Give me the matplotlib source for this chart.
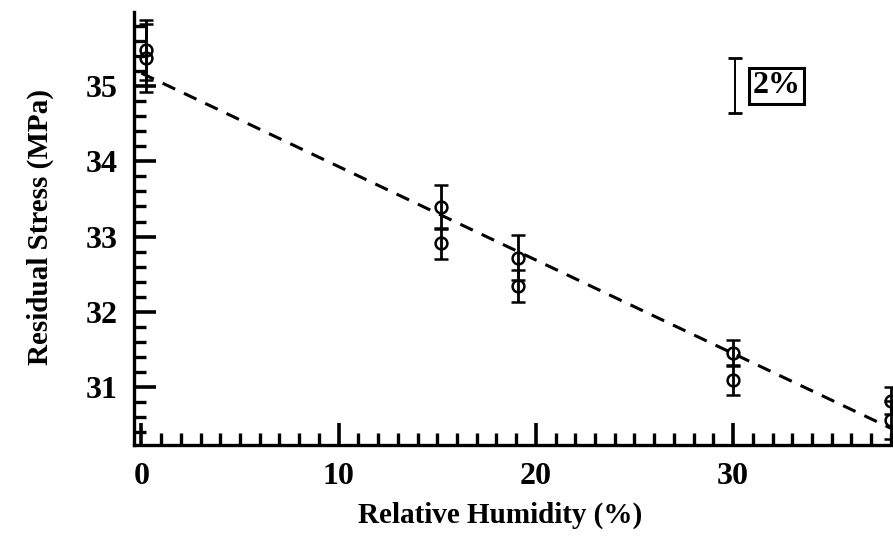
import matplotlib.pyplot as plt
from matplotlib.ticker import MultipleLocator

# readings taken off the original figure
humidity = [0.25, 0.25, 15.2, 15.2, 19.1, 19.1, 30.0, 30.0, 38.0, 38.0]
stress = [35.48, 35.37, 33.39, 32.91, 32.72, 32.34, 31.45, 31.09, 30.82, 30.56]
stress_err = [0.40, 0.45, 0.29, 0.21, 0.30, 0.21, 0.17, 0.20, 0.18, 0.25]

# dashed linear fit, end points
fit_x = [0.0, 38.2]
fit_y = [35.17, 30.43]

# "2%" scale bar
scale_x = 30.1
scale_y = 35.0
scale_err = 0.365
scale_label = '2%'

x_ticks = [0, 10, 20, 30]
y_ticks = [31, 32, 33, 34, 35]

plt.rcParams['font.family'] = ['Liberation Serif', 'DejaVu Serif']
plt.rcParams['font.weight'] = 'bold'

fig = plt.figure(figsize=(8.93, 5.53), dpi=100)
ax = fig.add_axes([0.150, 0.195, 0.850, 0.783])

ax.plot(fit_x, fit_y, color='black', lw=2.2, ls=(0, (4.5, 3.2)), clip_on=False)

ax.errorbar(humidity, stress, yerr=stress_err, fmt='o', mfc='none', mec='black',
            ms=8.5, mew=1.8, ecolor='black', elinewidth=2.0, capsize=5, capthick=2.0,
            color='black', clip_on=False)

ax.errorbar([scale_x], [scale_y], yerr=[scale_err], fmt='none', ecolor='black',
            elinewidth=1.4, capsize=5, capthick=2.0, ls=':')
ax.text(scale_x + 2.1, scale_y, scale_label, fontsize=23, fontweight='bold',
        ha='center', va='center',
        bbox=dict(boxstyle='square,pad=0.1', fc='white', ec='black', lw=2.2))

ax.set_xlim(-0.38, 38.11)
ax.set_ylim(30.23, 35.98)

ax.set_xticks(x_ticks)
ax.set_yticks(y_ticks)
ax.xaxis.set_minor_locator(MultipleLocator(1))
ax.yaxis.set_minor_locator(MultipleLocator(0.2))

ax.tick_params(which='major', direction='in', length=16, width=2.6, labelsize=23, pad=12)
ax.tick_params(which='minor', direction='in', length=8.5, width=2.4)

for lab in ax.get_xticklabels() + ax.get_yticklabels():
    lab.set_fontweight('bold')

ax.spines['top'].set_visible(False)
ax.spines['right'].set_visible(False)
ax.spines['left'].set_linewidth(2.4)
ax.spines['bottom'].set_linewidth(2.4)

fig.text(0.56, 0.068, 'Relative Humidity (%)', fontsize=21, fontweight='bold',
         ha='center', va='center')
fig.text(0.045, 0.59, 'Residual Stress (MPa)', fontsize=21, fontweight='bold',
         ha='center', va='center', rotation=90)

fig.savefig('out.png', dpi=100)
